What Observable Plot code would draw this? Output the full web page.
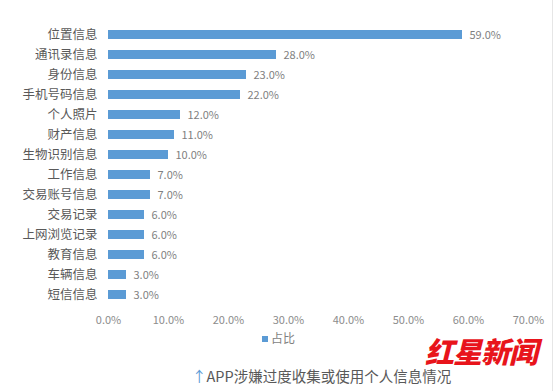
<!DOCTYPE html>
<html><head><meta charset="utf-8">
<script src="https://cdn.jsdelivr.net/npm/d3@7"></script>
<script src="https://cdn.jsdelivr.net/npm/@observablehq/plot@0.6"></script>
<style>
body{margin:0;background:#fff;font-family:"Noto Sans CJK SC","Noto Sans",sans-serif;}
#wrap{position:relative;width:557px;height:391px;overflow:hidden;}
#edge{position:absolute;left:552px;top:0;width:1px;height:391px;background:#e6e6e6;}
#legend{position:absolute;left:0;width:557px;top:329px;text-align:center;font-size:12px;color:#7f7f7f;}
#legend span.sw{display:inline-block;width:6px;height:6px;background:#5B9BD5;margin-right:3px;vertical-align:middle;position:relative;top:-1px;}
#caption{position:absolute;left:192px;top:365px;white-space:nowrap;font-size:14.5px;color:#595959;}
#caption .arr{color:#5B9BD5;}
#mark{position:absolute;left:425px;top:336px;font-size:29px;line-height:29px;font-weight:900;color:#e8141b;font-style:italic;letter-spacing:-1px;font-family:"Noto Sans CJK SC";}
</style></head>
<body><div id="wrap"><div id="chart"></div><div id="edge"></div>
<div id="legend"><span class="sw"></span>占比</div>
<div id="caption"><span class="arr">↑</span>APP涉嫌过度收集或使用个人信息情况</div>
<div id="mark">红星新闻</div>
</div>
<script>
const categories = ["位置信息","通讯录信息","身份信息","手机号码信息","个人照片","财产信息","生物识别信息","工作信息","交易账号信息","交易记录","上网浏览记录","教育信息","车辆信息","短信信息"];
const values = [59,28,23,22,12,11,10,7,7,6,6,6,3,3];
const ticks = [0,10,20,30,40,50,60,70];
const data = categories.map((c,i)=>({cat:c, v:values[i]}));
const chart = Plot.plot({
  width:557, height:330,
  marginLeft:108, marginRight:29, marginTop:21, marginBottom:23,
  style:{fontFamily:'"Noto Sans CJK SC","Noto Sans",sans-serif', background:"#fff"},
  x:{domain:[0,70], ticks:ticks, tickFormat:d=>d.toFixed(1)+"%", label:null, tickSize:0, tickPadding:10},
  y:{domain:categories, label:null, tickSize:0, tickPadding:11, paddingInner:0.55, paddingOuter:0.2, align:0.5},
  marks:[
    Plot.barX(data,{x:"v", y:"cat", fill:"#5B9BD5"}),
    Plot.text(data,{x:"v", y:"cat", text:d=>d.v.toFixed(1)+"%", textAnchor:"start", dx:7, fill:"#7f7f7f", fontSize:11}),
    Plot.axisX({ticks:ticks, tickFormat:d=>d.toFixed(1)+"%", tickSize:0, tickPadding:9, label:null, fill:"#8c8c8c", fontSize:11}),
    Plot.axisY({tickSize:0, tickPadding:11, label:null, fill:"#595959", fontSize:12.5})
  ]
});
document.getElementById("chart").appendChild(chart);
</script></body></html>
